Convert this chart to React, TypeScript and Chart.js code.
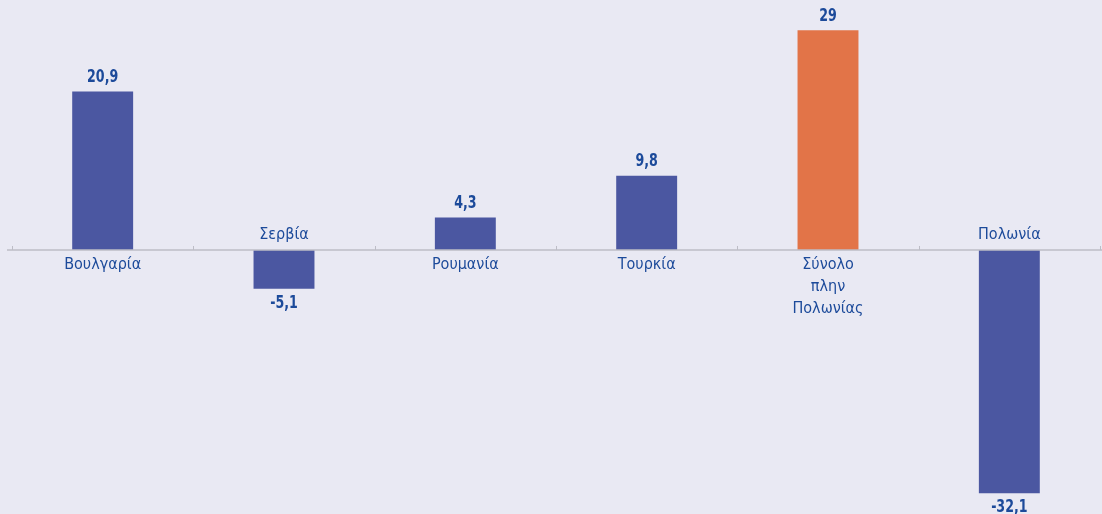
import React, { useEffect, useRef } from "react";
import { Chart, registerables } from "chart.js";

Chart.register(...registerables);

const categories: string[][] = [
  ["Βουλγαρία"],
  ["Σερβία"],
  ["Ρουμανία"],
  ["Τουρκία"],
  ["Σύνολο", "πλην", "Πολωνίας"],
  ["Πολωνία"],
];
const values: number[] = [20.9, -5.1, 4.3, 9.8, 29, -32.1];
const valueLabels: string[] = ["20,9", "-5,1", "4,3", "9,8", "29", "-32,1"];
const barColors: string[] = ["#4b57a1", "#4b57a1", "#4b57a1", "#4b57a1", "#e27448", "#4b57a1"];

const BG = "#e9e9f3";
const TEXT = "#1c4a9a";
const FONT = "'DejaVu Sans Condensed', 'Liberation Sans', sans-serif";

function drawScaledText(ctx: any, text: string, x: number, y: number, sx: number) {
  ctx.save();
  ctx.translate(x, y);
  ctx.scale(sx, 1);
  ctx.fillText(text, 0, 0);
  ctx.restore();
}

const labelPlugin = {
  id: "labelPlugin",
  beforeDraw(chart: any) {
    const { ctx, width, height } = chart;
    ctx.save();
    ctx.fillStyle = BG;
    ctx.fillRect(0, 0, width, height);
    ctx.restore();
  },
  afterDatasetsDraw(chart: any) {
    const { ctx } = chart;
    const x = chart.scales.x;
    const y = chart.scales.y;
    const y0 = y.getPixelForValue(0);
    ctx.save();
    ctx.strokeStyle = "#bdbdc6";
    ctx.lineWidth = 1.5;
    ctx.beginPath();
    ctx.moveTo(7, y0);
    ctx.lineTo(chart.width, y0);
    ctx.stroke();
    ctx.lineWidth = 1;
    for (let i = 0; i <= categories.length; i++) {
      const px = Math.round(x.getPixelForValue(i - 0.5)) + 0.5;
      ctx.beginPath();
      ctx.moveTo(px, y0);
      ctx.lineTo(px, y0 - 4);
      ctx.stroke();
    }
    const meta = chart.getDatasetMeta(0);
    ctx.textAlign = "center";
    ctx.textBaseline = "alphabetic";
    ctx.fillStyle = TEXT;
    meta.data.forEach((bar: any, i: number) => {
      const v = values[i];
      const cx = bar.x;
      ctx.font = `bold 18px ${FONT}`;
      if (v >= 0) {
        drawScaledText(ctx, valueLabels[i], cx, bar.y - 9.5, 0.78);
      } else {
        drawScaledText(ctx, valueLabels[i], cx, bar.y + 19, 0.78);
      }
      ctx.font = `16px ${FONT}`;
      const lines = categories[i];
      if (v >= 0) {
        lines.forEach((ln, k) => ctx.fillText(ln, cx, y0 + 19 + k * 22));
      } else {
        lines.forEach((ln, k) => ctx.fillText(ln, cx, y0 - 11 - (lines.length - 1 - k) * 22));
      }
    });
    ctx.restore();
  },
};

export default function App() {
  const ref = useRef<HTMLCanvasElement>(null);
  useEffect(() => {
    if (!ref.current) return;
    const chart = new Chart(ref.current, {
      type: "bar",
      data: {
        labels: categories.map((c) => c.join(" ")),
        datasets: [
          {
            data: values,
            backgroundColor: barColors,
            borderWidth: 0,
            categoryPercentage: 1,
            barPercentage: 0.336,
          },
        ],
      },
      options: {
        animation: false,
        responsive: true,
        maintainAspectRatio: false,
        layout: { padding: { left: 12, right: 2, top: 0, bottom: 0 } },
        plugins: { legend: { display: false }, tooltip: { enabled: false } },
        scales: {
          x: { display: false },
          y: { display: false, min: -34.83, max: 32.98 },
        },
      },
      plugins: [labelPlugin],
    });
    return () => chart.destroy();
  }, []);
  return (
    <div style={{ position: "fixed", left: 0, top: 0, width: 1102, height: 514, background: BG }}>
      <canvas ref={ref} />
    </div>
  );
}
